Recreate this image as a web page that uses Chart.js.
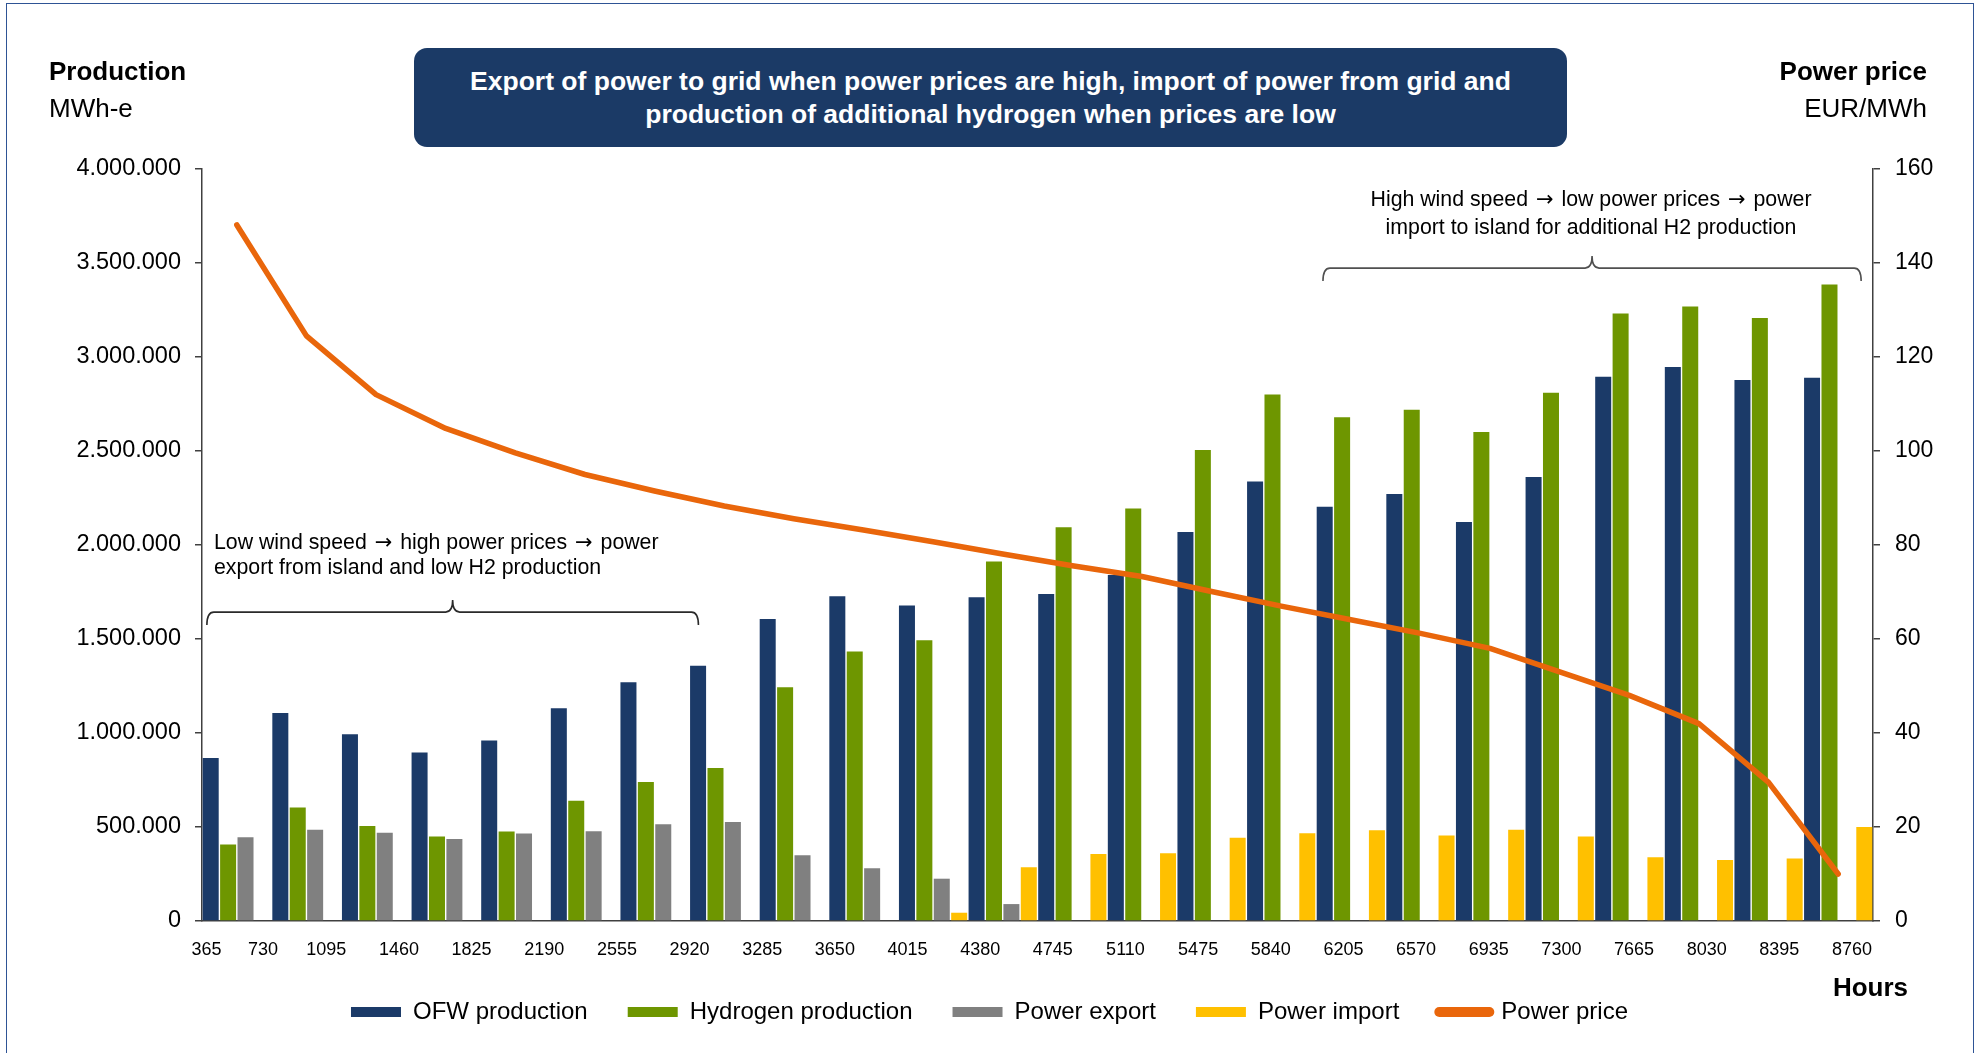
<!DOCTYPE html>
<html>
<head>
<meta charset="utf-8">
<title>OFW production, hydrogen and power price</title>
<script src="https://cdn.jsdelivr.net/npm/chart.js@4.4.1/dist/chart.umd.min.js"></script>
<style>
  body { margin: 0; background: #fff; font-family: 'Liberation Sans', Arial, sans-serif; }
  .page { position: relative; width: 1979px; height: 1053px; overflow: hidden; }
  .frame { position: absolute; left: 6px; top: 3px; width: 1968px; height: 1100px; box-sizing: border-box; border: 1.5px solid #2e5395; }
  #chart-wrap { position: absolute; left: 0; top: 0; width: 1979px; height: 1053px; }
  .head { position: absolute; font-size: 26px; line-height: 26px; color: #000; white-space: nowrap; }
  .bold { font-weight: bold; }
  .banner { position: absolute; left: 414px; top: 48px; width: 1153px; height: 99px; border-radius: 13px; background: #1b3a66;
    color: #fff; font-weight: bold; font-size: 26.5px; line-height: 32.6px; text-align: center; box-sizing: border-box; padding-top: 17px; }
  .note { position: absolute; font-size: 21.3px; color: #000; white-space: nowrap; }
  .arr { font-family: 'DejaVu Sans', sans-serif; font-size: 21px; margin: 0 2px; }
</style>
</head>
<body>
<div class="page">
  <div id="chart-wrap"><canvas id="chart"></canvas></div>

  <div class="head bold" style="left:49px; top:58px;">Production</div>
  <div class="head" style="left:49px; top:95px;">MWh-e</div>
  <div class="head bold" style="right:52px; top:58px;">Power price</div>
  <div class="head" style="right:52px; top:95px;">EUR/MWh</div>
  <div class="head bold" style="right:71px; top:974px;">Hours</div>

  <div class="banner">Export of power to grid when power prices are high, import of power from grid and<br>production of additional hydrogen when prices are low</div>

  <div class="note" style="left:214px; top:530px; line-height:25px;">Low wind speed <span class="arr">→</span> high power prices <span class="arr">→</span> power<br>export from island and low H2 production</div>
  <div class="note" style="left:1291px; top:186px; width:600px; text-align:center; line-height:27.5px;">High wind speed <span class="arr">→</span> low power prices <span class="arr">→</span> power<br>import to island for additional H2 production</div>

  <div class="frame"></div>
</div>

<script>
// hours of the year, one bucket per 365 h
const hours = [365, 730, 1095, 1460, 1825, 2190, 2555, 2920, 3285, 3650, 4015, 4380,
  4745, 5110, 5475, 5840, 6205, 6570, 6935, 7300, 7665, 8030, 8395, 8760];

// MWh-e per bucket
const ofwProduction = [867000, 1107000, 993000, 896000, 960000, 1131000, 1270000, 1358000,
  1607000, 1727000, 1678000, 1722000, 1739000, 1841000, 2069000, 2338000,
  2203000, 2271000, 2123000, 2362000, 2895000, 2947000, 2878000, 2890000];
const hydrogenProduction = [407000, 604000, 505000, 449000, 476000, 640000, 740000, 814000,
  1244000, 1433000, 1494000, 1912000, 2094000, 2194000, 2505000, 2800000,
  2680000, 2720000, 2601000, 2810000, 3232000, 3268000, 3207000, 3386000];
const powerExport = [446000, 486000, 470000, 436000, 466000, 477000, 514000, 526000,
  350000, 280000, 225000, 90000, 0, 0, 0, 0,
  0, 0, 0, 0, 0, 0, 0, 0];
const powerImport = [0, 0, 0, 0, 0, 0, 0, 0,
  0, 0, 44000, 286000, 357000, 360000, 443000, 467000,
  483000, 455000, 486000, 449000, 339000, 325000, 332000, 500000];

// EUR/MWh
const powerPrice = [148.1, 124.5, 112, 104.8, 99.6, 95, 91.5, 88.3,
  85.6, 83.2, 80.7, 78.1, 75.6, 73.3, 70.1, 67,
  64.1, 61.2, 58, 53, 48, 42, 29.5, 10];

const leftTicks = [0, 4000000, 500000];   // min, max, step
const rightTicks = [0, 160, 20];

Chart.defaults.font.family = "'Liberation Sans', Arial, sans-serif";
Chart.defaults.color = '#000';

const axisColor = '#404040';

// first hour labels are pushed right so they clear the axis corner (in label steps)
const edgeNudge = [0.35, 0.13];

// curly brackets over the low-wind and high-wind ranges, spans in category widths
const brackets = [
  { from: 0.07, to: 7.13, level: 1643000, color: '#2a2a2a' },
  { from: 16.1, to: 23.83, level: 3473000, color: '#505050' }
];

const bracketPlugin = {
  id: 'brackets',
  afterDatasetsDraw(chart) {
    const { ctx } = chart;
    const x = chart.scales.x, y = chart.scales.y;
    const slot = (x.right - x.left) / hours.length;
    ctx.save();
    ctx.lineWidth = 1.6;
    brackets.forEach(b => {
      const x0 = x.left + b.from * slot;
      const x1 = x.left + b.to * slot;
      const xm = (x0 + x1) / 2;
      const yy = y.getPixelForValue(b.level);
      const hook = 13, tip = 12, r = 7;
      ctx.strokeStyle = b.color;
      ctx.beginPath();
      ctx.moveTo(x0, yy + hook);
      ctx.quadraticCurveTo(x0, yy, x0 + r, yy);
      ctx.lineTo(xm - r, yy);
      ctx.quadraticCurveTo(xm, yy, xm, yy - tip);
      ctx.quadraticCurveTo(xm, yy, xm + r, yy);
      ctx.lineTo(x1 - r, yy);
      ctx.quadraticCurveTo(x1, yy, x1, yy + hook);
      ctx.stroke();
    });
    ctx.restore();
  }
};

const dotted = v => String(v).replace(/\B(?=(\d{3})+(?!\d))/g, '.');

const barSet = (label, data, color) => ({
  label, data,
  backgroundColor: color,
  pointStyle: 'rect',
  order: 1,
  xAxisID: 'x',
  yAxisID: 'y'
});

new Chart(document.getElementById('chart'), {
  type: 'bar',
  data: {
    labels: hours,
    datasets: [
      barSet('OFW production', ofwProduction, '#1b3a68'),
      barSet('Hydrogen production', hydrogenProduction, '#6e9600'),
      barSet('Power export', powerExport, '#808080'),
      barSet('Power import', powerImport, '#ffc000'),
      {
        type: 'line',
        label: 'Power price',
        data: powerPrice,
        borderColor: '#e9660b',
        backgroundColor: '#e9660b',
        borderWidth: 5.5,
        borderCapStyle: 'round',
        borderJoinStyle: 'round',
        pointRadius: 0,
        pointStyle: 'line',
        tension: 0,
        order: 0,
        xAxisID: 'x',
        yAxisID: 'y2'
      }
    ]
  },
  options: {
    responsive: true,
    maintainAspectRatio: false,
    animation: false,
    events: [],
    layout: { padding: { top: 169, bottom: 19, left: 0, right: 0 } },
    datasets: { bar: { barPercentage: 0.92, categoryPercentage: 1 } },
    scales: {
      x: { type: 'category', display: false, offset: true },
      x2: {
        type: 'category',
        labels: hours,
        position: 'bottom',
        offset: false,
        grid: { display: false },
        border: { display: true, color: axisColor, width: 1.5 },
        ticks: {
          font: { size: 18 }, padding: 10, labelOffset: -21, maxRotation: 0, autoSkip: false,
          callback: (v, i) => hours[i]
        },
        afterBuildTicks: s => {
          s.ticks.forEach((t, i) => { t.value += edgeNudge[i] || 0; });
        },
        afterFit: s => { s.height = 39; }
      },
      y: {
        position: 'left',
        min: leftTicks[0], max: leftTicks[1],
        ticks: { stepSize: leftTicks[2], padding: 14, font: { size: 23.5 }, callback: dotted },
        grid: { drawOnChartArea: false, tickLength: 7, color: axisColor, lineWidth: 1.5 },
        border: { color: axisColor, width: 1.5 },
        afterFit: s => { s.width = 202; }
      },
      y2: {
        position: 'right',
        min: rightTicks[0], max: rightTicks[1],
        ticks: { stepSize: rightTicks[2], padding: 15, font: { size: 23 } },
        grid: { drawOnChartArea: false, tickLength: 7, color: axisColor, lineWidth: 1.5 },
        border: { color: axisColor, width: 1.5 },
        afterFit: s => { s.width = 106; }
      }
    },
    plugins: {
      tooltip: { enabled: false },
      legend: {
        position: 'bottom',
        labels: {
          usePointStyle: true,
          pointStyleWidth: 50,
          boxHeight: 10,
          padding: 40,
          font: { size: 24 },
          sort: (a, b) => a.datasetIndex - b.datasetIndex,
          generateLabels(chart) {
            const items = Chart.defaults.plugins.legend.labels.generateLabels(chart);
            items.forEach(it => {
              if (it.pointStyle === 'line') { it.lineWidth = 10; it.lineCap = 'round'; }
            });
            return items;
          }
        }
      }
    }
  },
  plugins: [bracketPlugin]
});
</script>
</body>
</html>
